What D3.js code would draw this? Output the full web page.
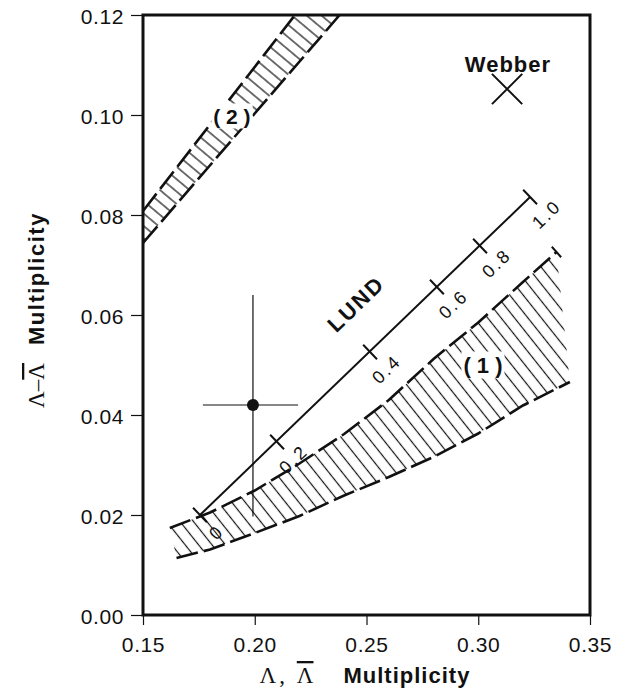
<!DOCTYPE html>
<html><head><meta charset="utf-8">
<script src="https://cdn.jsdelivr.net/npm/d3@7"></script>
<style>body{margin:0;background:#fff;}</style>
</head><body>
<svg id="chart" width="631" height="692"></svg>
<script>
// ---- data ----
const xTicks = [0.15, 0.20, 0.25, 0.30, 0.35];
const yTicks = [0.00, 0.02, 0.04, 0.06, 0.08, 0.10, 0.12];

// LUND prediction line with parameter ticks
const lundX = [0.1755, 0.2100, 0.2516, 0.2815, 0.3008, 0.3232];
const lundY = [0.0200, 0.0346, 0.0526, 0.0656, 0.0738, 0.0836];
const lundLabels = ["0", "0.2", "0.4", "0.6", "0.8", "1.0"];

// band (1)
const band1UpperX = [0.162, 0.18, 0.20, 0.22, 0.24, 0.26, 0.28, 0.30, 0.32, 0.335];
const band1UpperY = [0.0174, 0.0205, 0.0249, 0.0303, 0.0362, 0.0430, 0.0512, 0.0585, 0.0666, 0.0726];
const band1LowerX = [0.165, 0.18, 0.20, 0.22, 0.24, 0.26, 0.28, 0.30, 0.32, 0.341];
const band1LowerY = [0.0114, 0.0131, 0.0164, 0.0198, 0.0239, 0.0276, 0.0316, 0.0363, 0.0419, 0.0466];

// band (2)
const band2UpperX = [0.15, 0.184, 0.218];
const band2UpperY = [0.0808, 0.1004, 0.1200];
const band2LowerX = [0.15, 0.194, 0.238];
const band2LowerY = [0.0744, 0.0972, 0.1200];

// measurement
const obsX = 0.1992, obsY = 0.0420;
const obsXRange = [0.1768, 0.2194];
const obsYRange = [0.0197, 0.0640];

// Webber prediction
const webberX = 0.3129, webberY = 0.1052;

// annotation anchors (data coords)
const annLabels = ["LUND", "Webber", "( 2 )", "( 1 )"];
const annX = [0.2453, 0.3133, 0.1898, 0.3021];
const annY = [0.0622, 0.1102, 0.0998, 0.0500];

// ---- drawing ----
const svg = d3.select("#chart");
const SANS = "'Liberation Sans', Arial, Helvetica, sans-serif";
const SERIF = "'Liberation Serif', 'Times New Roman', serif";
const x = d3.scaleLinear().domain([0.15, 0.35]).range([143, 590]);
const y = d3.scaleLinear().domain([0, 0.12]).range([615, 15]);

const defs = svg.append("defs");
defs.append("clipPath").attr("id", "plotclip").append("rect")
  .attr("x", x(0.15)).attr("y", y(0.12))
  .attr("width", x(0.35) - x(0.15)).attr("height", y(0) - y(0.12));
function hatch(id, angle, gap) {
  const p = defs.append("pattern").attr("id", id)
    .attr("patternUnits", "userSpaceOnUse").attr("width", gap).attr("height", 10)
    .attr("patternTransform", `rotate(${angle})`);
  p.append("line").attr("x1", gap / 2).attr("y1", -1).attr("x2", gap / 2).attr("y2", 11)
    .attr("stroke", "#111").attr("stroke-width", 1.2);
}
hatch("hatch1", -38.5, 10.5);
hatch("hatch2", -50, 9.5);

const zip = (xs, ys) => xs.map((v, i) => [v, ys[i]]);
const line = d3.line().x(d => x(d[0])).y(d => y(d[1]));

const plot = svg.append("g").attr("clip-path", "url(#plotclip)");

function band(ux, uy, lx, ly, hatchId) {
  const up = zip(ux, uy), lo = zip(lx, ly);
  plot.append("path").attr("d", line(up.concat(lo.slice().reverse())) + "Z")
    .attr("fill", `url(#${hatchId})`).attr("stroke", "none");
  [up, lo].forEach(pts => plot.append("path").attr("d", line(pts))
    .attr("fill", "none").attr("stroke", "#111").attr("stroke-width", 2.6)
    .attr("stroke-dasharray", "22,6"));
  return up;
}
band(band2UpperX, band2UpperY, band2LowerX, band2LowerY, "hatch2");
const up1 = band(band1UpperX, band1UpperY, band1LowerX, band1LowerY, "hatch1");
// end cap on band (1)
{
  const a = up1[up1.length - 2], b = up1[up1.length - 1];
  const dx = x(b[0]) - x(a[0]), dy = y(b[1]) - y(a[1]);
  const L = Math.hypot(dx, dy), nx = -dy / L, ny = dx / L;
  plot.append("line").attr("x1", x(b[0]) - nx * 7).attr("y1", y(b[1]) - ny * 7)
    .attr("x2", x(b[0]) + nx * 7).attr("y2", y(b[1]) + ny * 7)
    .attr("stroke", "#111").attr("stroke-width", 2);
}

// LUND line
const lund = zip(lundX, lundY);
svg.append("path").attr("d", line([lund[0], lund[lund.length - 1]]))
  .attr("fill", "none").attr("stroke", "#111").attr("stroke-width", 2);
const ldx = x(lundX[5]) - x(lundX[0]), ldy = y(lundY[5]) - y(lundY[0]);
const lL = Math.hypot(ldx, ldy);
const ux = ldx / lL, uy = ldy / lL;   // along
const nx = -uy, ny = ux;             // normal (down-right)
const ang = Math.atan2(ldy, ldx) * 180 / Math.PI;
lund.forEach((d, i) => {
  const px = x(d[0]), py = y(d[1]);
  svg.append("line").attr("x1", px - nx * 10).attr("y1", py - ny * 10)
    .attr("x2", px + nx * 10).attr("y2", py + ny * 10)
    .attr("stroke", "#111").attr("stroke-width", 2);
  const tx = px + nx * 24, ty = py + ny * 24;
  svg.append("text").attr("x", tx).attr("y", ty)
    .attr("transform", `rotate(${ang},${tx},${ty})`)
    .attr("text-anchor", "middle").attr("dominant-baseline", "central")
    .attr("font-family", SANS).attr("font-size", 18).attr("letter-spacing", 2.5)
    .attr("fill", "#111").text(lundLabels[i]);
});

// label backgrounds + labels
function label(i, opts) {
  const g = svg.append("g");
  const t = g.append("text").attr("x", x(annX[i])).attr("y", y(annY[i]))
    .attr("text-anchor", "middle").attr("dominant-baseline", "central")
    .attr("font-family", SANS).attr("font-weight", "bold")
    .attr("font-size", opts.size).attr("letter-spacing", opts.ls || 0)
    .attr("fill", "#111").text(annLabels[i]);
  if (opts.rot) t.attr("transform", `rotate(${opts.rot},${x(annX[i])},${y(annY[i])})`);
  if (opts.bg) {
    const bb = t.node().getBBox();
    g.insert("rect", "text").attr("x", bb.x - 2).attr("y", bb.y - 1)
      .attr("width", bb.width + 4).attr("height", bb.height + 2).attr("fill", "#fff");
  }
}
label(0, { size: 22, ls: 2, rot: ang });
label(1, { size: 22, ls: 1 });
label(2, { size: 21, ls: 0, bg: true });
label(3, { size: 22, ls: 0, bg: true });

// measurement with error bars
svg.append("line").attr("x1", x(obsXRange[0])).attr("x2", x(obsXRange[1]))
  .attr("y1", y(obsY)).attr("y2", y(obsY)).attr("stroke", "#111").attr("stroke-width", 1.2);
svg.append("line").attr("x1", x(obsX)).attr("x2", x(obsX))
  .attr("y1", y(obsYRange[0])).attr("y2", y(obsYRange[1])).attr("stroke", "#111").attr("stroke-width", 1.2);
svg.append("circle").attr("cx", x(obsX)).attr("cy", y(obsY)).attr("r", 6).attr("fill", "#111");

// Webber cross
svg.append("path").attr("d", d3.symbol(d3.symbolX, 600)())
  .attr("transform", `translate(${x(webberX)},${y(webberY)})`)
  .attr("fill", "none").attr("stroke", "#111").attr("stroke-width", 2);

// axes
const xAxis = svg.append("g").attr("transform", `translate(0,${y(0)})`)
  .call(d3.axisBottom(x).tickValues(xTicks).tickSize(10).tickPadding(12).tickFormat(d3.format(".2f")));
const yAxis = svg.append("g").attr("transform", `translate(${x(0.15)},0)`)
  .call(d3.axisLeft(y).tickValues(yTicks).tickSize(12).tickPadding(7).tickFormat(d3.format(".2f")));
[xAxis, yAxis].forEach(g => {
  g.select(".domain").remove();
  g.selectAll(".tick line").attr("stroke", "#111").attr("stroke-width", 1.2);
  g.selectAll(".tick text").attr("font-family", SANS).attr("font-size", 21)
    .attr("letter-spacing", 0.6).attr("fill", "#111");
});
yAxis.selectAll(".tick text").attr("dy", "0.4em");

// frame
svg.append("rect").attr("x", x(0.15)).attr("y", y(0.12))
  .attr("width", x(0.35) - x(0.15)).attr("height", y(0) - y(0.12))
  .attr("fill", "none").attr("stroke", "#111").attr("stroke-width", 3);

// axis titles
const xt = svg.append("text").attr("x", 365).attr("y", 683).attr("text-anchor", "middle").attr("fill", "#111");
xt.append("tspan").attr("font-family", SERIF).attr("font-size", 23).attr("letter-spacing", 3).text("Λ, ");
xt.append("tspan").attr("font-family", SERIF).attr("font-size", 23)
  .style("text-decoration", "overline").text("Λ");
xt.append("tspan").attr("dx", 30).attr("font-family", SANS).attr("font-weight", "bold")
  .attr("font-size", 22).attr("letter-spacing", 1).text("Multiplicity");

const yt = svg.append("text").attr("transform", "translate(44,310) rotate(-90)")
  .attr("text-anchor", "middle").attr("fill", "#111");
yt.append("tspan").attr("font-family", SERIF).attr("font-size", 23).text("Λ–");
yt.append("tspan").attr("font-family", SERIF).attr("font-size", 23)
  .style("text-decoration", "overline").text("Λ");
yt.append("tspan").attr("dx", 18).attr("font-family", SANS).attr("font-weight", "bold")
  .attr("font-size", 22).attr("letter-spacing", 1.5).text("Multiplicity");
</script>
</body></html>
